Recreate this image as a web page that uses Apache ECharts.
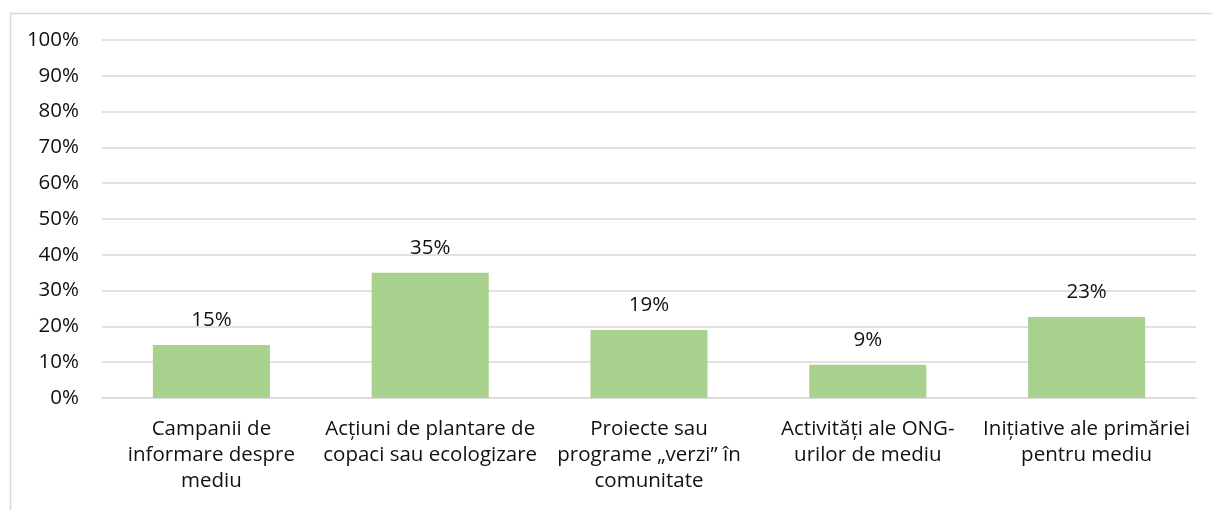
<!DOCTYPE html>
<html><head><meta charset="utf-8">
<script src="https://cdn.jsdelivr.net/npm/echarts@6/dist/echarts.min.js"></script>
<style>html,body{margin:0;padding:0;background:#fff}#c{width:1212px;height:510px}</style>
</head><body><div id="c"></div>
<script>
const categories = [
  "Campanii de\ninformare despre\nmediu",
  "Acțiuni de plantare de\ncopaci sau ecologizare",
  "Proiecte sau\nprograme „verzi” în\ncomunitate",
  "Activități ale ONG-\nurilor de mediu",
  "Inițiative ale primăriei\npentru mediu"
];
const values = [14.8, 35.0, 19.0, 9.3, 22.6];
const yTicks = [0, 10, 20, 30, 40, 50, 60, 70, 80, 90, 100];

const FONT = "Open Sans";
const FS = 20.5;
const chart = echarts.init(document.getElementById('c'), null, {renderer: 'canvas'});
chart.setOption({
  animation: false,
  backgroundColor: '#fff',
  textStyle: {fontFamily: FONT},
  graphic: [{
    type: 'rect', left: 8, top: 11, z: -10,
    shape: {width: 1400, height: 700},
    style: {fill: 'none', stroke: '#d9d9d9', lineWidth: 1.5}
  }],
  grid: {left: 102, right: 16, top: 40, bottom: 112, containLabel: false},
  xAxis: {
    type: 'category', data: categories,
    axisTick: {show: false},
    axisLine: {lineStyle: {color: '#d9d9d9', width: 1.5}},
    axisLabel: {interval: 0, color: '#111', fontSize: FS, fontFamily: FONT, lineHeight: 26, margin: 18, align: 'center'}
  },
  yAxis: {
    type: 'value', min: yTicks[0], max: yTicks[yTicks.length - 1], interval: 10,
    axisLine: {show: false}, axisTick: {show: false},
    splitLine: {lineStyle: {color: '#d9d9d9', width: 1.5}},
    axisLabel: {formatter: '{value}%', color: '#111', fontSize: FS, fontFamily: FONT, margin: 23}
  },
  series: [{
    type: 'bar', data: values, barWidth: '53.5%',
    itemStyle: {color: '#a9d18e'},
    label: {show: true, position: 'top', distance: 14, color: '#111', fontSize: FS, fontFamily: FONT,
      formatter: p => Math.round(p.value) + '%'}
  }]
});
</script></body></html>
